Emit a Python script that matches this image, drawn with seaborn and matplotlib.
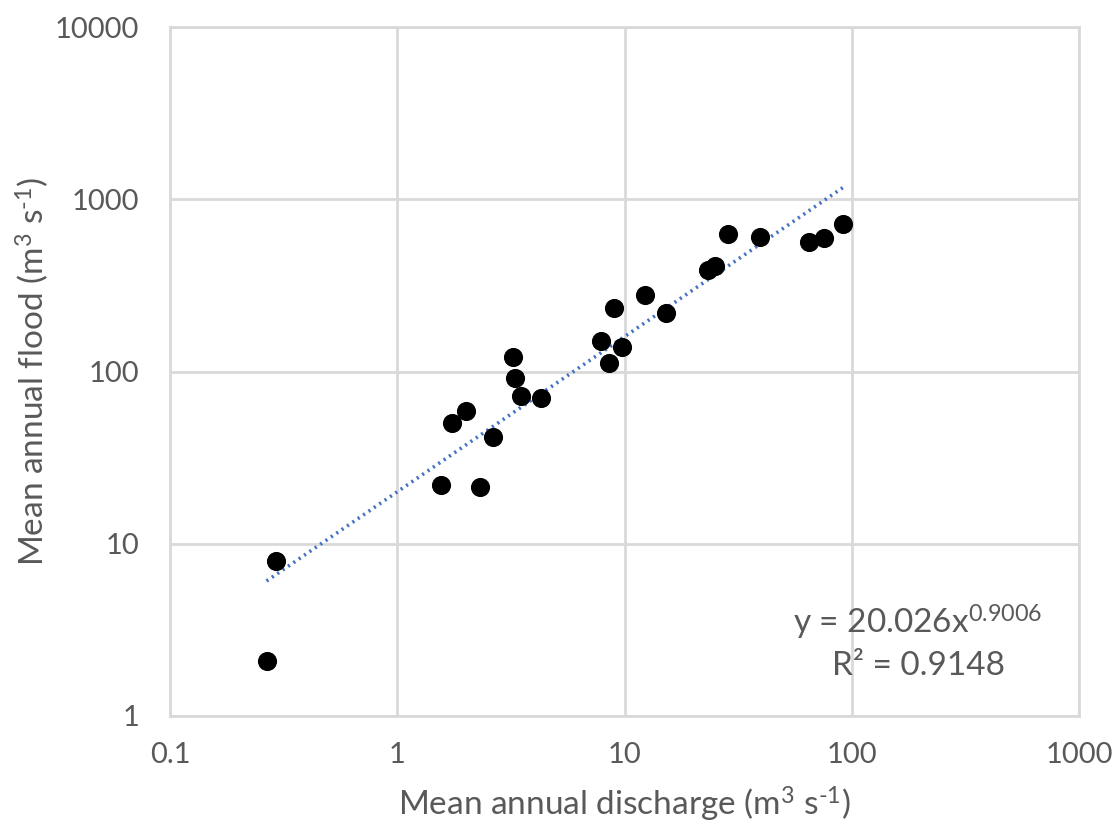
import numpy as np
import pandas as pd
import matplotlib
matplotlib.use("Agg")
import matplotlib.pyplot as plt
import seaborn as sns
from matplotlib.ticker import FixedLocator, FixedFormatter, NullLocator

# Data
discharge = [0.266, 0.293, 1.56, 1.74, 2.01, 2.31, 2.65, 3.24, 3.30, 3.49, 4.30,
             7.86, 8.52, 8.99, 9.72, 12.3, 15.3, 23.4, 25.1, 28.4, 39.5, 65.0, 75.3, 91.5]
flood = [2.08, 7.9, 22.0, 50.5, 59.3, 21.3, 41.9, 122, 91.4, 71.8, 70.3,
         151, 112, 233, 138, 278, 218, 386, 409, 626, 604, 562, 593, 722]
fit_coef = 20.026
fit_exp = 0.9006
r2 = 0.9148
x_ticks = [0.1, 1, 10, 100, 1000]
x_tick_labels = ["0.1", "1", "10", "100", "1000"]
y_ticks = [1, 10, 100, 1000, 10000]
y_tick_labels = ["1", "10", "100", "1000", "10000"]

df = pd.DataFrame({"discharge": discharge, "flood": flood})

sns.set_theme(style="white")
plt.rcParams['font.family'] = ['Lato', 'DejaVu Sans']
plt.rcParams['mathtext.fontset'] = 'custom'
plt.rcParams['mathtext.rm'] = 'Lato'
plt.rcParams['mathtext.it'] = 'Lato'
plt.rcParams['mathtext.bf'] = 'Lato'

text_color = "#595959"
grid_color = "#d9d9d9"

W, H = 1119, 826
fig = plt.figure(figsize=(W / 100, H / 100), dpi=100)
ax = fig.add_axes([170/W, 1-716/H, (1079-170)/W, (716-27)/H])

ax.set_xscale("log")
ax.set_yscale("log")
ax.set_xlim(0.1, 1000)
ax.set_ylim(1, 10000)

# trend line (power fit shown on the chart)
xf = np.logspace(np.log10(min(discharge)), np.log10(max(discharge)), 50)
yf = fit_coef * xf ** fit_exp
ax.plot(xf, yf, linestyle=(0, (0.6, 1.2)), color="#4472C4", linewidth=2.6, zorder=3)

sns.scatterplot(data=df, x="discharge", y="flood", ax=ax, color="black",
                s=190, edgecolor="black", linewidth=0, zorder=4, legend=False)

ax.xaxis.set_major_locator(FixedLocator(x_ticks))
ax.xaxis.set_major_formatter(FixedFormatter(x_tick_labels))
ax.yaxis.set_major_locator(FixedLocator(y_ticks))
ax.yaxis.set_major_formatter(FixedFormatter(y_tick_labels))
ax.xaxis.set_minor_locator(NullLocator())
ax.yaxis.set_minor_locator(NullLocator())

ax.grid(True, which="major", color=grid_color, linewidth=2)
ax.set_axisbelow(True)
for s in ax.spines.values():
    s.set_color(grid_color)
    s.set_linewidth(2)

ax.tick_params(axis="both", length=0, labelsize=21, colors=text_color)
ax.tick_params(axis="x", pad=19)
ax.tick_params(axis="y", pad=22)

ax.set_xlabel(r"Mean annual discharge (m$^{3}$ s$^{\text{-1}}$)", fontsize=24,
              color=text_color, labelpad=12)
ax.set_ylabel(r"Mean annual flood (m$^{3}$ s$^{\text{-1}}$)", fontsize=24,
              color=text_color, labelpad=3)

ax.text(918 / W, 1 - 622 / H, f"y = {fit_coef:.3f}x$^{{{fit_exp}}}$",
        transform=fig.transFigure, ha="center", va="center", fontsize=24, color=text_color)
ax.text(919 / W, 1 - 666 / H, f"R² = {r2}", transform=fig.transFigure,
        ha="center", va="center", fontsize=24, color=text_color)

fig.savefig("out.png", dpi=100)
